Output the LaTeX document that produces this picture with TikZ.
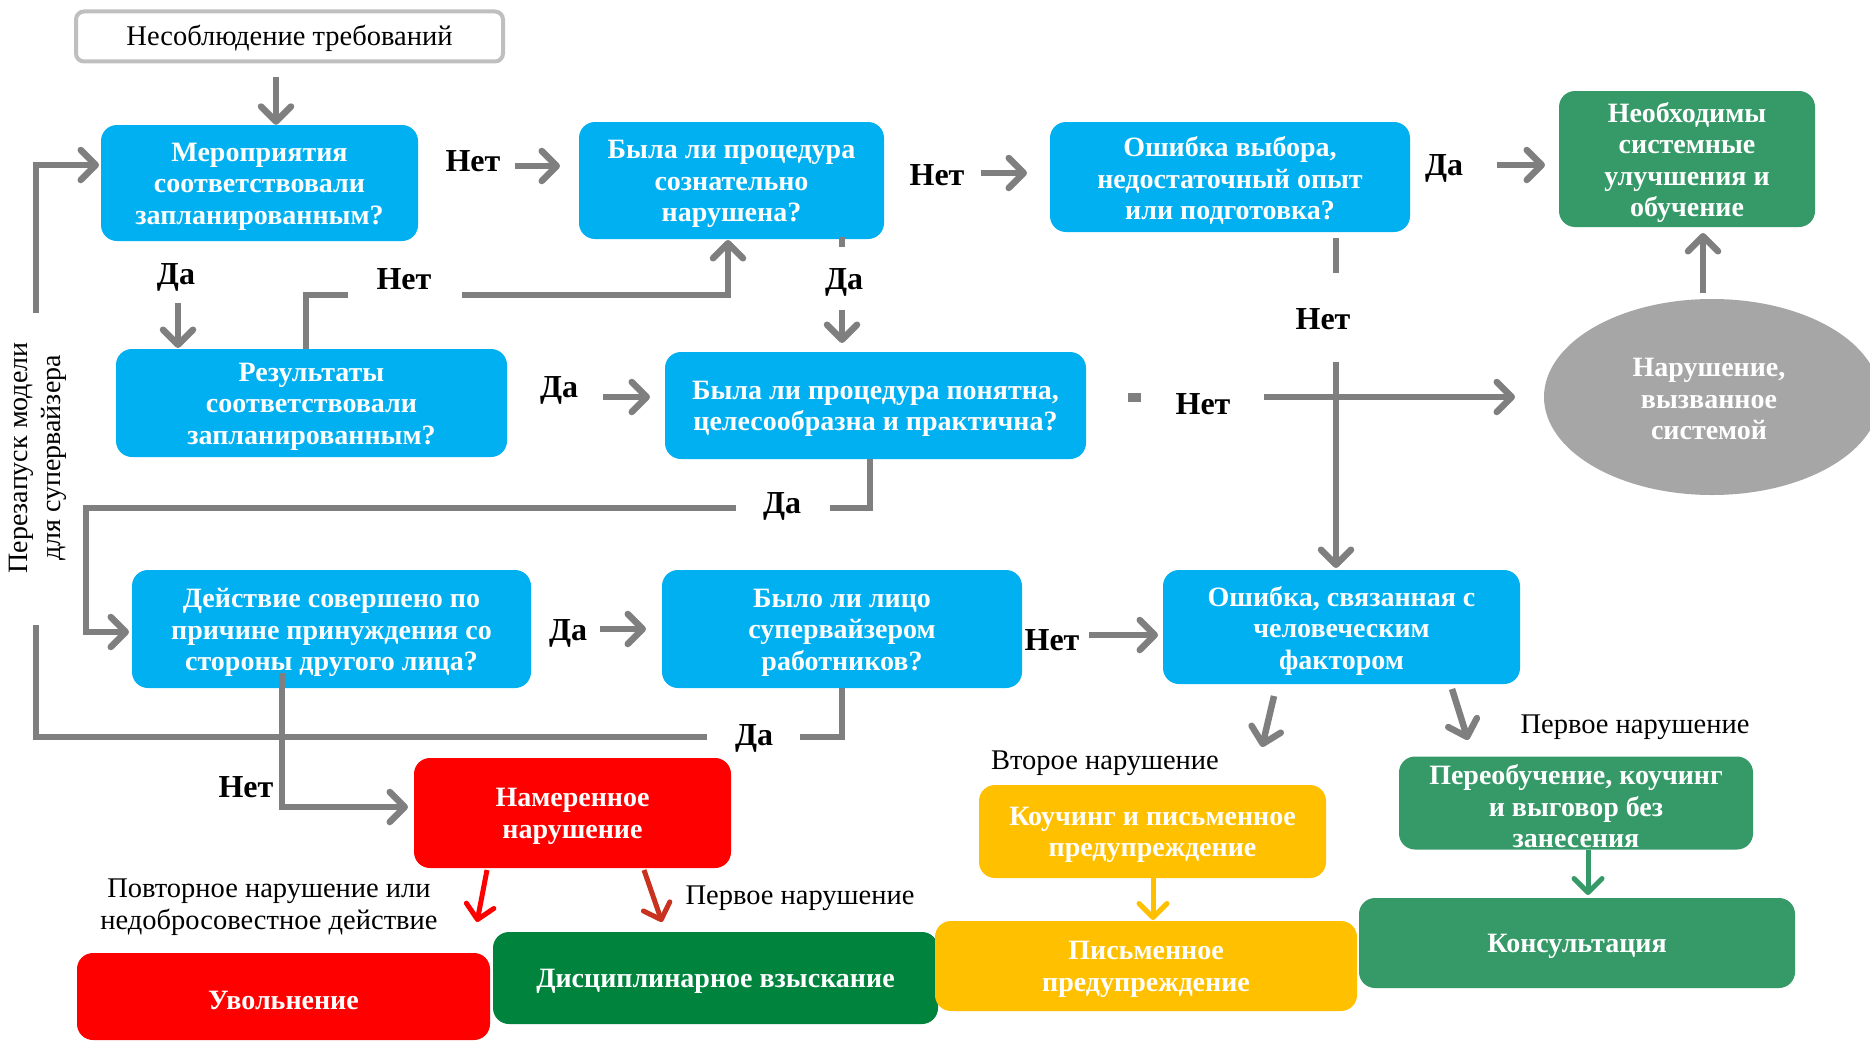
\documentclass[tikz,border=0pt]{standalone}
\usepackage{fontspec}
\setmainfont{Liberation Serif}
\usetikzlibrary{arrows.meta,shapes.geometric}
\definecolor{cblue}{HTML}{00B0F0}
\definecolor{cgreen}{HTML}{359A68}
\definecolor{cdgreen}{HTML}{00843D}
\definecolor{cred}{HTML}{FF0000}
\definecolor{cdred}{HTML}{C8321E}
\definecolor{cyel}{HTML}{FFC000}
\definecolor{cgray}{HTML}{7F7F7F}
\definecolor{cell}{HTML}{A6A6A6}
\definecolor{cbord}{HTML}{BFBFBF}
\newcommand\boxfnt{\bfseries\fontsize{28}{31.5}\selectfont}
\newcommand\labfnt{\bfseries\fontsize{32}{36}\selectfont}
\newcommand\txtfnt{\fontsize{28.5}{31.5}\selectfont}
\tikzset{
  btext/.style={align=center, text=white, font=\boxfnt, inner sep=0pt, yshift=-3.5pt},
  box/.style n args={3}{rectangle, rounded corners=16pt, minimum width=#1pt, minimum height=#2pt, inner sep=0pt, label={[btext]center:{#3}}},
  lab/.style={font=\labfnt, text=black, inner sep=0pt},
  txt/.style={font=\txtfnt, text=black, inner sep=0pt, align=center},
  conn/.style={draw=cgray, line width=6.5pt, line cap=butt, line join=miter},
  arr/.style={conn, -{Straight Barb[length=15pt,width=30pt,round]}},
  carr/.style={line width=5pt, -{Straight Barb[length=14pt,width=28pt,round]}, draw=#1},
}
\begin{document}
\begin{tikzpicture}[x=1pt,y=-1pt]
\useasboundingbox (0,0) rectangle (1870,1041);
\fill[white] (0,0) rectangle (1870,1041);

% boxes
\node[rectangle, minimum width=427pt, minimum height=50pt, inner sep=0pt, fill=white, draw=cbord, line width=4pt, rounded corners=8pt, label={[txt, yshift=-2pt]center:Несоблюдение требований}] (top) at (289.5,36.5) {};
\node[box={317}{116}{Мероприятия\\соответствовали\\запланированным?}, fill=cblue] (b1) at (259.5,183) {};
\node[box={305}{117}{Была ли процедура\\сознательно\\нарушена?}, fill=cblue] (b2) at (731.5,180.5) {};
\node[box={360}{110}{Ошибка выбора,\\недостаточный опыт\\или подготовка?}, fill=cblue] (b3) at (1230,177) {};
\node[box={256}{136}{Необходимы\\системные\\улучшения и\\обучение}, fill=cgreen] (b4) at (1687,159) {};
\node[ellipse, fill=cell, minimum width=336pt, minimum height=196pt, inner sep=0pt] (ell) at (1712,397) {};
\node[align=center, text=white, font=\boxfnt, inner sep=0pt] (elltxt) at (1709,399) {Нарушение,\\вызванное\\системой};
\node[box={391}{108}{Результаты\\соответствовали\\запланированным?}, fill=cblue] (b5) at (311.5,403) {};
\node[box={421}{107}{Была ли процедура понятна,\\целесообразна и практична?}, fill=cblue] (b6) at (875.5,405.5) {};
\node[box={399}{118}{Действие совершено по\\причине принуждения со\\стороны другого лица?}, fill=cblue] (b8) at (331.5,629) {};
\node[box={360}{118}{Было ли лицо\\супервайзером\\работников?}, fill=cblue] (b9) at (842,629) {};
\node[box={357}{114}{Ошибка, связанная с\\человеческим\\фактором}, fill=cblue] (b7) at (1341.5,627) {};
\node[box={317}{110}{Намеренное\\нарушение}, fill=cred] (b10) at (572.5,813) {};
\node[box={413}{87}{Увольнение}, fill=cred] (b11) at (283.5,996.5) {};
\node[box={445}{92}{Дисциплинарное взыскание}, fill=cdgreen] (b12) at (715.5,978) {};
\node[box={347}{93}{Коучинг и письменное\\предупреждение}, fill=cyel] (b13) at (1152.5,831.5) {};
\node[box={422}{90}{Письменное\\предупреждение}, fill=cyel] (b14) at (1146,966) {};
\node[box={354}{93}{Переобучение, коучинг\\и выговор без\\занесения}, fill=cgreen] (b15) at (1576,803) {};
\node[box={436}{90}{Консультация}, fill=cgreen] (b16) at (1577,943) {};

% connectors
\draw[arr] (276,77) -- (276,0 |- b1.north);
\node[lab] (n1) at (473,161) {Нет};
\draw[arr] (515,166) -- (560,166);
\node[lab] (n2) at (937,175) {Нет};
\draw[arr] (981,173) -- (1027,173);
\node[lab] (d1) at (1444,168) {Да};
\draw[arr] (1497,165) -- (1545,165);
\draw[arr] (1703,0 |- ell.north) ++(0,-6) -- (1703,233);
\node[lab] (d2) at (176,277) {Да};
\draw[arr] (178,303) -- (178,348);
\node[lab] (n3) at (404,279) {Нет};
\draw[conn] (306,0 |- b5.north) -- (306,295) -- (348,295);
\draw[arr] (462,295) -- (728,295) -- (728,240);
\draw[conn] (842,237) -- (842,247);
\node[lab] (d3) at (844,282) {Да};
\draw[arr] (842,310) -- (842,343);
\node[lab] (d4) at (559,390) {Да};
\draw[arr] (603,397) -- (650,397);
\draw[conn] (1336,238) -- (1336,273);
\node[lab] (n4) at (1323,319) {Нет};
\draw[arr] (1336,362) -- (1336,568);
\fill[cgray] (1128,393) rectangle (1141,402);
\node[lab] (n5) at (1203,404) {Нет};
\draw[arr] (1264,397) -- (1515,397);
\draw[conn] (870,0 |- b6.south) -- (870,508) -- (830,508);
\node[lab] (d5) at (782,506) {Да};
\draw[arr] (736,508) -- (86,508) -- (86,632) -- (129,632);
\node[lab] (d6) at (568,633) {Да};
\draw[arr] (600,629) -- (646,629);
\node[lab] (n6) at (1052,640) {Нет};
\draw[arr] (1089,635) -- (1158,635);
\draw[conn] (842,0 |- b9.south) -- (842,737) -- (800,737);
\node[lab] (d7) at (754,738) {Да};
\draw[conn] (707,737) -- (36,737) -- (36,625);
\draw[arr] (36,313) -- (36,165) -- (99,165);
\node[txt, rotate=90, font=\fontsize{28}{33}\selectfont] (restart) at (38,458) {Перезапуск модели\\для супервайзера};
\draw[arr] (282,673) -- (282,807) -- (408,807);
\node[lab] (n7) at (246,787) {Нет};
\draw[carr=cred] (487,870) -- (477,922);
\draw[carr=cdred] (644,870) -- (662,922);
\node[txt] (t1) at (269,907) {Повторное нарушение или\\недобросовестное действие};
\node[txt] (t2) at (800,898) {Первое нарушение};
\draw[arr] (1274,696) -- (1262,747);
\draw[arr] (1452,689) -- (1468,740);
\node[txt] (t3) at (1105,763) {Второе нарушение};
\node[txt] (t4) at (1635,727) {Первое нарушение};
\draw[carr=cyel] (1153,878) -- (1153,920);
\draw[carr=cgreen] (1588,850) -- (1588,895);
\end{tikzpicture}
\end{document}
